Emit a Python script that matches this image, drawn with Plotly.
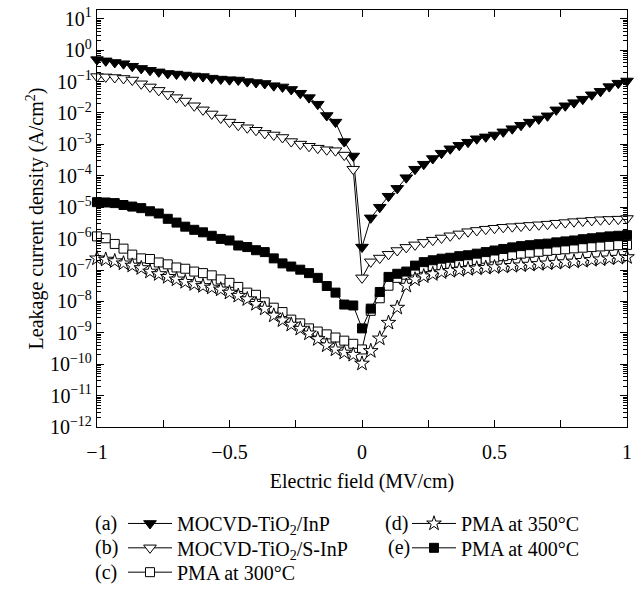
import plotly.graph_objects as go

# Electric field (MV/cm), one sample every 1/30 MV/cm
field = [-1.0, -0.967, -0.933, -0.9, -0.867, -0.833, -0.8, -0.767, -0.733, -0.7,
         -0.667, -0.633, -0.6, -0.567, -0.533, -0.5, -0.467, -0.433, -0.4, -0.367,
         -0.333, -0.3, -0.267, -0.233, -0.2, -0.167, -0.133, -0.1, -0.067, -0.033,
         0.0,
         0.033, 0.067, 0.1, 0.133, 0.167, 0.2, 0.233, 0.267, 0.3, 0.333,
         0.367, 0.4, 0.433, 0.467, 0.5, 0.533, 0.567, 0.6, 0.633, 0.667,
         0.7, 0.733, 0.767, 0.8, 0.833, 0.867, 0.9, 0.933, 0.967, 1.0]

# log10 of leakage current density (A/cm^2)
log10_J_a = [-0.30, -0.34, -0.39, -0.43, -0.51, -0.58, -0.64, -0.69, -0.74, -0.76,
             -0.79, -0.82, -0.84, -0.89, -0.92, -0.94, -0.95, -1.00, -1.03, -1.06,
             -1.13, -1.17, -1.25, -1.37, -1.51, -1.72, -2.08, -2.29, -2.91, -3.37,
             -6.27,
             -5.34, -5.00, -4.65, -4.40, -4.06, -3.79, -3.63, -3.45, -3.28, -3.14,
             -3.03, -2.93, -2.82, -2.76, -2.70, -2.60, -2.50, -2.39, -2.29, -2.19,
             -2.09, -1.90, -1.77, -1.67, -1.56, -1.42, -1.31, -1.16, -1.05, -0.98]
log10_J_b = [-0.84, -0.85, -0.87, -0.90, -0.95, -1.07, -1.17, -1.28, -1.41, -1.51,
             -1.62, -1.77, -1.90, -2.03, -2.16, -2.29, -2.39, -2.47, -2.55, -2.65,
             -2.70, -2.78, -2.91, -2.99, -3.06, -3.12, -3.17, -3.20, -3.34, -3.79,
             -7.25,
             -6.74, -6.62, -6.50, -6.38, -6.28, -6.20, -6.12, -6.05, -5.98, -5.91,
             -5.85, -5.78, -5.74, -5.70, -5.67, -5.64, -5.62, -5.60, -5.58, -5.56,
             -5.54, -5.51, -5.49, -5.46, -5.44, -5.42, -5.40, -5.39, -5.38, -5.36]
log10_J_c = [-5.93, -5.99, -6.17, -6.32, -6.51, -6.63, -6.65, -6.76, -6.82, -6.92,
             -6.96, -7.05, -7.10, -7.17, -7.30, -7.41, -7.54, -7.72, -7.79, -8.03,
             -8.20, -8.34, -8.58, -8.70, -8.86, -8.96, -9.05, -9.15, -9.25, -9.35,
             -9.53,
             -8.30, -7.90, -7.50, -7.25, -7.15, -7.02, -6.93, -6.87, -6.84, -6.80,
             -6.76, -6.72, -6.68, -6.64, -6.60, -6.56, -6.52, -6.48, -6.45, -6.42,
             -6.39, -6.36, -6.34, -6.31, -6.29, -6.27, -6.25, -6.23, -6.21, -6.20]
log10_J_d = [-6.63, -6.67, -6.72, -6.79, -6.86, -6.94, -7.05, -7.13, -7.22, -7.30,
             -7.38, -7.45, -7.51, -7.56, -7.62, -7.72, -7.82, -7.93, -8.08, -8.23,
             -8.45, -8.60, -8.74, -8.87, -9.02, -9.20, -9.40, -9.53, -9.63, -9.70,
             -9.98,
             -9.58, -9.18, -8.68, -8.20, -7.50, -7.30, -7.20, -7.13, -7.07, -7.03,
             -7.00, -6.97, -6.95, -6.93, -6.91, -6.89, -6.87, -6.85, -6.83, -6.81,
             -6.79, -6.77, -6.75, -6.73, -6.71, -6.68, -6.66, -6.63, -6.61, -6.59]
log10_J_e = [-4.84, -4.85, -4.87, -4.93, -4.98, -5.03, -5.13, -5.20, -5.37, -5.49,
             -5.62, -5.72, -5.80, -5.91, -6.01, -6.06, -6.22, -6.27, -6.37, -6.43,
             -6.63, -6.79, -6.89, -6.99, -7.10, -7.25, -7.51, -7.72, -8.10, -8.13,
             -8.86,
             -8.23, -7.70, -7.22, -7.12, -7.05, -6.86, -6.75, -6.69, -6.64, -6.61,
             -6.56, -6.53, -6.48, -6.43, -6.38, -6.33, -6.28, -6.24, -6.21, -6.18,
             -6.16, -6.12, -6.09, -6.06, -6.02, -5.99, -5.96, -5.93, -5.91, -5.89]

series_tags = ["(a)", "(b)", "(c)", "(d)", "(e)"]
series_names = ["MOCVD-TiO<sub>2</sub>/InP", "MOCVD-TiO<sub>2</sub>/S-InP",
                "PMA at 300°C", "PMA at 350°C", "PMA at 400°C"]
series_logs = [log10_J_a, log10_J_b, log10_J_c, log10_J_d, log10_J_e]

x_tick_vals = [-1, -0.5, 0, 0.5, 1]
x_tick_text = ["−1", "−0.5", "0", "0.5", "1"]
x_minor_vals = [-0.75, -0.25, 0.25, 0.75]
y_exponents = list(range(-12, 2))

FONT = "Liberation Serif"
FS = 20
symbols = ["triangle-down", "triangle-down", "square", "star", "square"]
sizes = [11, 11, 9, 11, 9]
fills = ["black", "white", "white", "white", "black"]
legend_ids = ["legend", "legend2", "legend3", "legend4", "legend5"]

fig = go.Figure()
for tag, name, logs, sym, sz, fc, lg in zip(series_tags, series_names, series_logs,
                                             symbols, sizes, fills, legend_ids):
    fig.add_trace(go.Scatter(
        x=field, y=[10 ** v for v in logs], mode="lines+markers", name=name,
        line=dict(color="black", width=1),
        marker=dict(symbol=sym, size=sz, color=fc,
                    line=dict(color="black", width=1)),
        cliponaxis=False, legend=lg, showlegend=True))

W, H = 641, 597
ml, mr, mt, mb = 97, 14, 5, 164
pw, ph = W - ml - mr, H - mt - mb

def px_to_paper_x(px):
    return (px - ml) / pw

def px_to_paper_y(py):
    return (H - mb - py) / ph

row_y = [532, 557, 582, 532, 557]
leg_x = [123, 123, 123, 407, 407]
tag_x = [106, 106, 106, 396, 399]

layout_legends = {}
for i, lg in enumerate(legend_ids):
    layout_legends[lg] = dict(
        x=px_to_paper_x(leg_x[i]), y=px_to_paper_y(row_y[i]),
        xanchor="left", yanchor="middle", bgcolor="rgba(0,0,0,0)",
        borderwidth=0, font=dict(family=FONT, size=FS, color="black"),
        itemwidth=44, tracegroupgap=0)

annotations = []
for i, tag in enumerate(series_tags):
    annotations.append(dict(
        x=px_to_paper_x(tag_x[i]), y=px_to_paper_y(row_y[i]), xref="paper", yref="paper",
        text=tag, showarrow=False, xanchor="center", yanchor="middle",
        font=dict(family=FONT, size=FS, color="black")))

minor_vals = [m * 10.0 ** e for e in range(-12, 1) for m in range(2, 10)] + [20.0]

fig.update_layout(
    width=W, height=H, margin=dict(l=ml, r=mr, t=mt, b=mb),
    paper_bgcolor="white", plot_bgcolor="white",
    font=dict(family=FONT, size=FS, color="black"),
    annotations=annotations,
    **layout_legends,
    xaxis=dict(range=[-1, 1], tickvals=x_tick_vals, ticktext=x_tick_text,
               ticks="inside", ticklen=7, tickwidth=1, tickcolor="black",
               minor=dict(tickvals=x_minor_vals, ticks="inside", ticklen=7,
                          tickwidth=1, tickcolor="black", showgrid=False),
               ticklabelstandoff=7,
               showline=True, linecolor="black", linewidth=1.3, mirror="ticks",
               showgrid=False, zeroline=False,
               tickfont=dict(family=FONT, size=FS),
               title=dict(text="Electric field (MV/cm)", standoff=11,
                          font=dict(family=FONT, size=FS))),
    yaxis=dict(type="log", range=[-12, 1.28],
               tickvals=[10.0 ** e for e in y_exponents],
               ticktext=["10<sup>%s</sup>" % (str(e).replace("-", "−")) for e in y_exponents],
               ticks="inside", ticklen=7, tickwidth=1, tickcolor="black",
               minor=dict(tickvals=minor_vals, ticks="inside", ticklen=3.5,
                          tickwidth=1, tickcolor="black", showgrid=False),
               showline=True, linecolor="black", linewidth=1.3, mirror="ticks",
               showgrid=False, zeroline=False,
               tickfont=dict(family=FONT, size=FS),
               title=dict(text="Leakage current density (A/cm<sup>2</sup>)", standoff=0,
                          font=dict(family=FONT, size=FS))),
)

fig.write_html("out.html")
